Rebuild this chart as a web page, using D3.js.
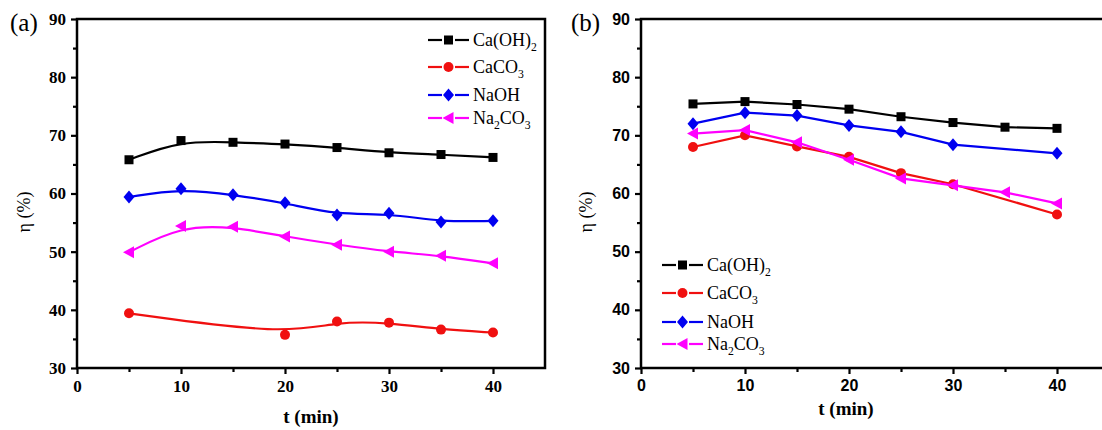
<!DOCTYPE html>
<html>
<head>
<meta charset="utf-8">
<script src="https://cdn.jsdelivr.net/npm/d3@7"></script>
<style>
  body { margin: 0; background: #fff; }
  svg { display: block; }
</style>
</head>
<body>
<div id="container"></div>
<script>
  // data
  const times = [5, 10, 15, 20, 25, 30, 35, 40];
  const names = ["Ca(OH)2", "CaCO3", "NaOH", "Na2CO3"];

  // panel (a) - smoothed curves
  const aCaOH2 = [65.8, 69.1, 68.8, 68.5, 67.9, 67.0, 66.7, 66.2];
  const aCaCO3 = [39.4, null, null, 35.7, 38.0, 37.8, 36.6, 36.1];
  const aNaOH = [59.4, 60.8, 59.8, 58.4, 56.3, 56.6, 55.1, 55.3];
  const aNa2CO3 = [49.9, 54.4, 54.3, 52.6, 51.2, 50.0, 49.3, 48.0];

  // panel (b) - straight lines
  const bCaOH2 = [75.4, 75.8, 75.3, 74.5, 73.2, 72.2, 71.4, 71.2];
  const bCaCO3 = [68.0, 70.0, 68.1, 66.3, 63.5, 61.6, null, 56.4];
  const bNaOH = [72.0, 73.9, 73.4, 71.7, 70.6, 68.4, null, 66.9];
  const bNa2CO3 = [70.3, 70.9, 68.8, 65.8, 62.6, 61.4, 60.2, 58.3];

  const xTicks = [0, 10, 20, 30, 40];
  const yTicks = [30, 40, 50, 60, 70, 80, 90];

  const colors = ["#000000", "#f01010", "#0000f0", "#ff00ff"];
  const shapes = ["square", "circle", "diamond", "triangle"];

  const serif = "'Liberation Serif', 'Times New Roman', Times, serif";
  const sans = "'Liberation Sans', Arial, Helvetica, sans-serif";

  const width = 1102, height = 430;

  const svg = d3.create("svg")
      .attr("width", width)
      .attr("height", height);

  function marker(g, shape, color, cx, cy) {
    if (shape === "square") {
      g.append("rect").attr("x", cx - 4.5).attr("y", cy - 4.5)
        .attr("width", 9).attr("height", 9).attr("fill", color);
    } else if (shape === "circle") {
      g.append("circle").attr("cx", cx).attr("cy", cy).attr("r", 5).attr("fill", color);
    } else if (shape === "diamond") {
      g.append("path")
        .attr("d", `M${cx},${cy - 6.5}L${cx + 5.5},${cy}L${cx},${cy + 6.5}L${cx - 5.5},${cy}Z`)
        .attr("fill", color);
    } else {
      g.append("path")
        .attr("d", `M${cx - 6},${cy}L${cx + 5},${cy - 6}L${cx + 5},${cy + 6}Z`)
        .attr("fill", color);
    }
  }

  // label with subscript digits
  function chemText(g, x, y, name, size) {
    const t = g.append("text").attr("x", x).attr("y", y)
      .style("font-family", serif)
      .attr("font-size", size);
    const parts = name.match(/[0-9]+|[^0-9]+/g);
    let shift = 0;
    parts.forEach(p => {
      const sub = /^[0-9]+$/.test(p);
      const dy = (sub ? 5 : 0) - shift;
      shift = sub ? 5 : 0;
      t.append("tspan").attr("dy", dy)
        .attr("font-size", sub ? size * 0.65 : size).text(p);
    });
  }

  function drawPanel(opt) {
    const x = d3.scaleLinear().domain([0, 45]).range([opt.left, opt.left + 468]);
    const y = d3.scaleLinear().domain([30, 90]).range([368, 19]);
    const g = svg.append("g");

    // frame
    g.append("rect")
      .attr("x", x(0)).attr("y", y(90))
      .attr("width", x(45) - x(0)).attr("height", y(30) - y(90))
      .attr("fill", "none").attr("stroke", "#000").attr("stroke-width", 2.5);

    // bottom axis
    const xAxis = d3.axisBottom(x).tickValues(xTicks).tickSize(6).tickPadding(6)
      .tickFormat(d3.format("d"));
    g.append("g").attr("transform", `translate(0,${y(30)})`).call(xAxis);
    const xMinor = d3.axisBottom(x).tickValues([5, 15, 25, 35]).tickSize(4).tickFormat("");
    g.append("g").attr("transform", `translate(0,${y(30)})`).call(xMinor);

    const yAxis = d3.axisLeft(y).tickValues(yTicks).tickSize(6).tickPadding(5)
      .tickFormat(d3.format("d"));
    g.append("g").attr("transform", `translate(${x(0)},0)`).call(yAxis);
    const yMinor = d3.axisLeft(y).tickValues([35, 45, 55, 65, 75, 85]).tickSize(4).tickFormat("");
    g.append("g").attr("transform", `translate(${x(0)},0)`).call(yMinor);

    g.selectAll(".domain").remove();
    g.selectAll(".tick line").attr("stroke", "#000").attr("stroke-width", 2.2);
    g.selectAll(".tick text")
      .style("font-family", opt.tickFont)
      .attr("font-weight", "bold")
      .attr("font-size", opt.tickSize)
      .attr("fill", "#000");

    // series
    opt.series.forEach((vals, i) => {
      const pts = times.map((t, j) => [t, vals[j]]).filter(d => d[1] !== null);
      const line = d3.line().x(d => x(d[0])).y(d => y(d[1])).curve(opt.curve);
      g.append("path").attr("d", line(pts))
        .attr("fill", "none").attr("stroke", colors[i]).attr("stroke-width", 2.2);
      pts.forEach(d => marker(g, shapes[i], colors[i], x(d[0]), y(d[1])));
    });

    // legend
    opt.legendY.forEach((ly, i) => {
      const lx = opt.legendX;
      g.append("line").attr("x1", lx).attr("x2", lx + 14).attr("y1", ly).attr("y2", ly)
        .attr("stroke", colors[i]).attr("stroke-width", 2.2);
      g.append("line").attr("x1", lx + 27).attr("x2", lx + 41).attr("y1", ly).attr("y2", ly)
        .attr("stroke", colors[i]).attr("stroke-width", 2.2);
      marker(g, shapes[i], colors[i], lx + 20.5, ly);
      chemText(g, lx + 45, ly + 6, names[i], 18);
    });

    // panel label
    g.append("text").attr("x", opt.labelX).attr("y", 31)
      .style("font-family", serif)
      .attr("font-size", 25).text(opt.label);

    // axis titles
    g.append("text")
      .attr("transform", `translate(${opt.yTitleX},212) rotate(-90)`)
      .attr("text-anchor", "middle")
      .style("font-family", serif)
      .attr("font-size", 18).text("\u03b7 (%)");
    g.append("text")
      .attr("x", opt.xTitleX).attr("y", opt.xTitleY)
      .attr("text-anchor", "middle")
      .style("font-family", serif)
      .attr("font-weight", "bold")
      .attr("font-size", 19).text("t (min)");
  }

  drawPanel({
    left: 77, label: "(a)", labelX: 10,
    tickFont: serif, tickSize: 17,
    series: [aCaOH2, aCaCO3, aNaOH, aNa2CO3],
    curve: d3.curveBasis,
    legendX: 428, legendY: [40, 67, 95, 118],
    yTitleX: 30, xTitleX: 311, xTitleY: 423
  });

  drawPanel({
    left: 641, label: "(b)", labelX: 571,
    tickFont: sans, tickSize: 16,
    series: [bCaOH2, bCaCO3, bNaOH, bNa2CO3],
    curve: d3.curveLinear,
    legendX: 662, legendY: [265, 293, 322, 344],
    yTitleX: 592, xTitleX: 846, xTitleY: 415
  });

  container.append(svg.node());
</script>
</body>
</html>
